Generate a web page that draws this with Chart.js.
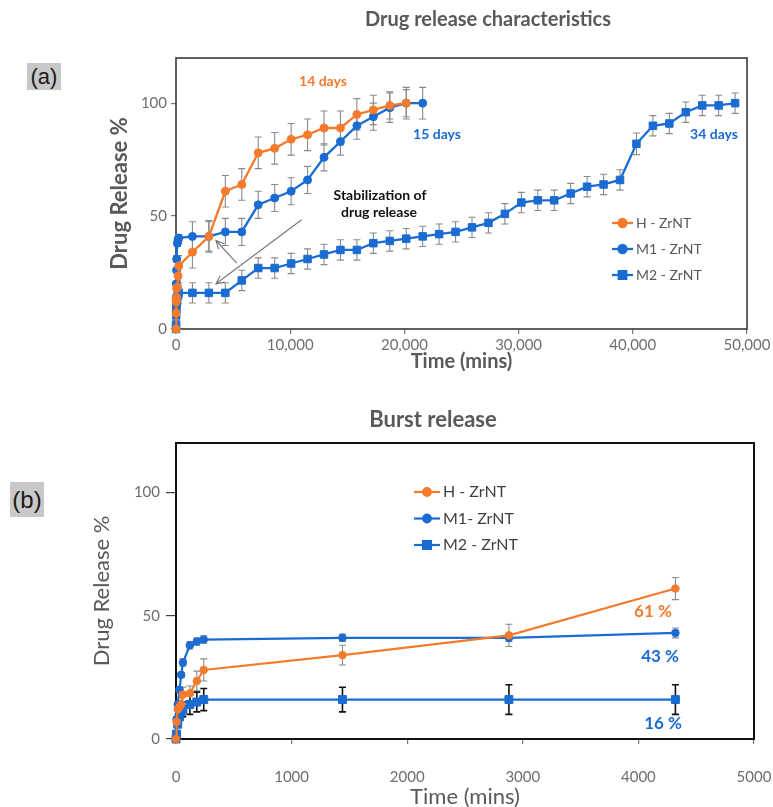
<!DOCTYPE html>
<html>
<head>
<meta charset="utf-8">
<title>Drug release characteristics</title>
<script src="https://cdn.jsdelivr.net/npm/chart.js@4.4.1/dist/chart.umd.min.js"></script>
<style>
  body { margin: 0; background: #fff; }
  #page { position: relative; width: 773px; height: 807px; overflow: hidden; }
  canvas { position: absolute; left: 0; }
  #chartA { top: 0; }
  #chartB { top: 380px; }
  .tag { position: absolute; background: #c8c8c8; color: #1a1a1a; font-family: "Liberation Sans", Arial, sans-serif; text-align: center; }
  #tagA { left: 27px; top: 63px; width: 34px; height: 27px; font-size: 22px; line-height: 27px; }
  #tagB { left: 10px; top: 482px; width: 34px; height: 35px; font-size: 24px; line-height: 35px; }
</style>
</head>
<body>
<div id="page">
  <canvas id="chartA" width="773" height="380"></canvas>
  <canvas id="chartB" width="773" height="430"></canvas>
  <div class="tag" id="tagA">(a)</div>
  <div class="tag" id="tagB">(b)</div>
</div>
<script>
// burst phase (minutes) - used by chart (b) and for the first points of chart (a)
const burstTime = [0, 5, 15, 30, 45, 60, 120, 180, 240, 1440, 2880, 4320];
const burstH  = [0, 7, 12, 13, 14, 18, 18.5, 23.5, 28, 34, 42, 61];
const burstM1 = [0, 8, 14, 20, 26, 31, 38, 39.5, 40.3, 41, 41, 43];
const burstM2 = [0, 2, 6, 9, 11, 12, 14, 15, 16, 16, 16, 16];
const burstErrH  = [0, 1.5, 2, 2.5, 3, 3, 3, 4, 4.5, 4, 4.5, 4.5];
const burstErrM1 = [0, 1, 1, 1, 1, 1.5, 1.5, 1.5, 1.5, 1.5, 1.5, 2];
const burstErrM2 = [0, 1, 1, 1.5, 2, 3, 4, 4, 4.5, 5, 6, 6];

// daily sampling (minutes) - chart (a)
const dayTime = [1440, 2880, 4320, 5760, 7200, 8640, 10080, 11520, 12960, 14400,
  15840, 17280, 18720, 20160, 21600, 23040, 24480, 25920, 27360, 28800,
  30240, 31680, 33120, 34560, 36000, 37440, 38880, 40320, 41760, 43200,
  44640, 46080, 47520, 48960];
const dayH  = [34, 41, 61, 64, 78, 80, 84, 86, 89, 89, 95, 97, 99, 100];
const dayM1 = [41, 41, 43, 43, 55, 58, 61, 66, 76, 83, 90, 94, 98, 100, 100];
const dayM2 = [16, 16, 16, 21.5, 27, 27, 29, 31, 33, 35, 35, 38, 39, 40, 41, 42, 43, 45,
  47, 51, 56, 57, 57, 60, 63, 64, 66, 82, 90, 91, 96, 99, 99, 100];
const dayErrH  = [7, 7, 7, 7, 7, 7, 7, 7, 7.5, 7.5, 7, 6.5, 6, 6];
const dayErrM1 = [6.5, 6.5, 6, 6, 6, 6, 6, 6, 6, 6, 6, 6, 6.5, 7, 7];
const dayErrM2 = [4.5, 4.5, 4.5, 4.5, 4.5, 4.5, 4.5, 4.5, 4.5, 4.5, 4.5, 4.5, 4.5, 4.5, 4.5,
  4.5, 4.5, 4.5, 4.5, 4.5, 4.5, 4.5, 4.5, 4.5, 4.5, 4.5, 4.5, 4.8, 4.5, 4.5, 4.5, 4.5, 4.5, 4.5];

const labels = ['H - ZrNT', 'M1 - ZrNT', 'M2 - ZrNT'];
const labelsB = ['H - ZrNT', 'M1- ZrNT', 'M2 - ZrNT'];

const yTicks = [0, 50, 100];
const xTicksA = [0, 10000, 20000, 30000, 40000, 50000];
const xTicksB = [0, 1000, 2000, 3000, 4000, 5000];

const ORANGE = '#F47B2C';
const BLUE = '#1A6BD2';
const FONT = 'Lato, "Open Sans", sans-serif';

function points(times, vals, errs) {
  return vals.map((v, i) => ({x: times[i], y: v, err: errs[i]}));
}

// chart (a) starts with the burst points taken before the first day
function early(vals, errs) {
  const n = burstTime.filter(t => t < dayTime[0]).length;
  return points(burstTime.slice(0, n), vals.slice(0, n), errs.slice(0, n));
}

// error bars, drawn through the y scale
const errorBars = {
  id: 'errorBars',
  beforeDatasetsDraw(chart) {
    const {ctx} = chart;
    const y = chart.scales.y;
    chart.data.datasets.forEach((d, i) => {
      const meta = chart.getDatasetMeta(i);
      ctx.save();
      ctx.strokeStyle = d.errColor;
      ctx.lineWidth = d.errWidth;
      meta.data.forEach((pt, j) => {
        const p = d.data[j];
        if (!p.err) return;
        const top = y.getPixelForValue(p.y + p.err);
        const bot = y.getPixelForValue(p.y - p.err);
        const c = d.errCap;
        ctx.beginPath();
        ctx.moveTo(pt.x, top); ctx.lineTo(pt.x, bot);
        ctx.moveTo(pt.x - c, top); ctx.lineTo(pt.x + c, top);
        ctx.moveTo(pt.x - c, bot); ctx.lineTo(pt.x + c, bot);
        ctx.stroke();
      });
      ctx.restore();
    });
  }
};

// box around the plot area
const frame = {
  id: 'frame',
  beforeDatasetsDraw(chart, args, opts) {
    const {ctx, chartArea: a} = chart;
    ctx.save();
    ctx.strokeStyle = opts.color;
    ctx.lineWidth = opts.width;
    ctx.strokeRect(a.left, a.top, a.right - a.left, a.bottom - a.top);
    ctx.restore();
  }
};

// title, legend and notes placed by hand
const extras = {
  id: 'extras',
  afterDraw(chart, args, opts) {
    const {ctx} = chart;
    const xs = chart.scales.x, ys = chart.scales.y;
    ctx.save();
    ctx.textBaseline = 'middle';

    const h = opts.heading;
    ctx.textAlign = 'center';
    ctx.fillStyle = h.color;
    ctx.font = h.font;
    ctx.fillText(h.text, h.x, h.y);

    const k = opts.key;
    chart.data.datasets.forEach((d, i) => {
      const yy = k.y + i * k.dy;
      ctx.strokeStyle = d.borderColor;
      ctx.fillStyle = d.backgroundColor;
      ctx.lineWidth = d.borderWidth;
      ctx.beginPath();
      ctx.moveTo(k.x, yy); ctx.lineTo(k.x + k.len, yy);
      ctx.stroke();
      Chart.helpers.drawPoint(ctx, {pointStyle: d.pointStyle, radius: d.pointRadius, rotation: 0, borderWidth: 1},
        k.x + k.len / 2, yy);
      ctx.fillStyle = k.color;
      ctx.font = k.font;
      ctx.textAlign = 'left';
      ctx.fillText(d.label, k.x + k.len + 3, yy);
    });

    ctx.textAlign = 'center';
    (opts.notes || []).forEach(n => {
      ctx.fillStyle = n.color;
      ctx.font = n.font;
      ctx.fillText(n.text, xs.getPixelForValue(n.x), ys.getPixelForValue(n.y));
    });

    (opts.arrows || []).forEach(a => {
      const x0 = xs.getPixelForValue(a.from[0]), y0 = ys.getPixelForValue(a.from[1]);
      const x1 = xs.getPixelForValue(a.to[0]), y1 = ys.getPixelForValue(a.to[1]);
      const ang = Math.atan2(y1 - y0, x1 - x0);
      ctx.strokeStyle = '#7a7a7a';
      ctx.lineWidth = 1.2;
      ctx.beginPath();
      ctx.moveTo(x0, y0); ctx.lineTo(x1, y1);
      ctx.moveTo(x1 - 9 * Math.cos(ang - 0.45), y1 - 9 * Math.sin(ang - 0.45));
      ctx.lineTo(x1, y1);
      ctx.lineTo(x1 - 9 * Math.cos(ang + 0.45), y1 - 9 * Math.sin(ang + 0.45));
      ctx.stroke();
    });
    ctx.restore();
  }
};

function series(label, color, style, radius, data, width, errColor, errWidth) {
  return {
    label: label, data: data,
    borderColor: color, backgroundColor: color,
    borderWidth: width, tension: 0,
    pointStyle: style, pointRadius: radius, pointHoverRadius: radius,
    pointBorderWidth: 1, clip: false,
    errColor: errColor, errWidth: errWidth, errCap: 3.5
  };
}

function axis(cfg) {
  return {
    type: 'linear', min: cfg.min, max: cfg.max,
    afterBuildTicks: s => { s.ticks = cfg.ticks.map(v => ({value: v})); },
    afterFit: s => {
      if (cfg.width) s.width = cfg.width;
      if (cfg.height) { s.height = cfg.height; s.paddingLeft = 0; s.paddingRight = 0; }
    },
    border: {display: false},
    grid: {drawOnChartArea: false, drawTicks: true, tickLength: cfg.tickLength, color: cfg.tickColor, lineWidth: 1.2},
    ticks: {
      color: '#6e6e6e', font: {family: FONT, size: cfg.tickSize}, padding: cfg.pad,
      maxRotation: 0, autoSkip: false, callback: cfg.format
    },
    title: {display: true, text: cfg.title, color: '#595959', font: cfg.titleFont, padding: cfg.titlePad}
  };
}

const GREY = '#8a8a8a';

new Chart(document.getElementById('chartA'), {
  type: 'line',
  data: {
    datasets: [
      series(labels[0], ORANGE, 'circle', 4, early(burstH, burstErrH).concat(points(dayTime, dayH, dayErrH)), 2.3, GREY, 1.1),
      series(labels[1], BLUE, 'circle', 4, early(burstM1, burstErrM1).concat(points(dayTime, dayM1, dayErrM1)), 2.3, GREY, 1.1),
      series(labels[2], BLUE, 'rect', 5.3, early(burstM2, burstErrM2).concat(points(dayTime, dayM2, dayErrM2)), 2.3, GREY, 1.1)
    ]
  },
  options: {
    responsive: false, animation: false,
    layout: {padding: {top: 58, right: 26, left: 107, bottom: 0}},
    scales: {
      x: axis({min: 0, max: 50000, ticks: xTicksA, height: 51, tickLength: 5, tickColor: '#7a7a7a',
        tickSize: 15, pad: 2, format: v => v.toLocaleString('en-US'),
        title: 'Time (mins)', titleFont: {family: FONT, size: 20, weight: 'bold'}, titlePad: {top: 0, bottom: 6}}),
      y: axis({min: 0, max: 120, ticks: yTicks, width: 69, tickLength: 5, tickColor: '#7a7a7a',
        tickSize: 15, pad: 4, format: v => String(v),
        title: 'Drug Release %', titleFont: {family: FONT, size: 22, weight: 'bold'}, titlePad: {top: 0, bottom: 0}})
    },
    plugins: {
      legend: {display: false}, tooltip: {enabled: false},
      frame: {color: '#3a3a3a', width: 1.6},
      extras: {
        heading: {text: 'Drug release characteristics', x: 488, y: 20, color: '#595959', font: 'bold 20px ' + FONT},
        key: {x: 612, y: 223, dy: 26, len: 21, color: '#595959', font: '14px ' + FONT},
        notes: [
          {text: '14 days', x: 12870, y: 109.5, color: ORANGE, font: 'bold 14px ' + FONT},
          {text: '15 days', x: 22860, y: 86, color: BLUE, font: 'bold 14px ' + FONT},
          {text: '34 days', x: 47110, y: 86, color: BLUE, font: 'bold 14px ' + FONT},
          {text: 'Stabilization of', x: 17860, y: 59, color: '#111', font: 'bold 14px ' + FONT},
          {text: 'drug release', x: 17780, y: 51.5, color: '#111', font: 'bold 14px ' + FONT}
        ],
        arrows: [
          {from: [11000, 48.4], to: [3500, 20]},
          {from: [5320, 29.2], to: [3500, 39.2]}
        ]
      }
    }
  },
  plugins: [frame, errorBars, extras]
});

new Chart(document.getElementById('chartB'), {
  type: 'line',
  data: {
    datasets: [
      series(labelsB[0], ORANGE, 'circle', 3.8, points(burstTime, burstH, burstErrH), 2.2, GREY, 1.1),
      series(labelsB[1], BLUE, 'circle', 3.8, points(burstTime, burstM1, burstErrM1), 2.2, GREY, 1.1),
      series(labelsB[2], BLUE, 'rect', 5.6, points(burstTime, burstM2, burstErrM2), 2.2, '#111', 1.6)
    ]
  },
  options: {
    responsive: false, animation: false,
    layout: {padding: {top: 63, right: 19, left: 89, bottom: 0}},
    scales: {
      x: axis({min: 0, max: 5000, ticks: xTicksB, height: 71, tickLength: 5, tickColor: '#7a7a7a',
        tickSize: 15, pad: 24, format: v => String(v),
        title: 'Time (mins)', titleFont: {family: FONT, size: 22}, titlePad: {top: 0, bottom: 0}}),
      y: axis({min: 0, max: 120, ticks: yTicks, width: 87, tickLength: 10, tickColor: '#404040',
        tickSize: 15, pad: 6, format: v => String(v),
        title: 'Drug Release %', titleFont: {family: FONT, size: 22}, titlePad: {top: 0, bottom: 0}})
    },
    plugins: {
      legend: {display: false}, tooltip: {enabled: false},
      frame: {color: '#111', width: 2},
      extras: {
        heading: {text: 'Burst release', x: 433, y: 40, color: '#595959', font: 'bold 22px ' + FONT},
        key: {x: 414, y: 112, dy: 26.5, len: 26, color: '#404040', font: '16px ' + FONT},
        notes: [
          {text: '61 %', x: 4126, y: 51.8, color: ORANGE, font: 'bold 17px ' + FONT},
          {text: '43 %', x: 4187, y: 33.4, color: BLUE, font: 'bold 17px ' + FONT},
          {text: '16 %', x: 4213, y: 6.1, color: BLUE, font: 'bold 17px ' + FONT}
        ]
      }
    }
  },
  plugins: [frame, errorBars, extras]
});
</script>
</body>
</html>
